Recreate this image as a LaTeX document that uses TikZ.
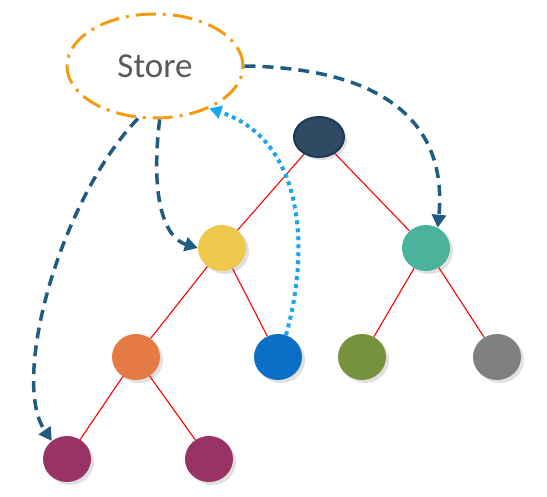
\documentclass[tikz,border=0pt]{standalone}
\usepackage{fontspec}
\setmainfont{Carlito}
\usetikzlibrary{shapes.geometric,shadows,arrows.meta}
\definecolor{storeor}{HTML}{F39C12}
\definecolor{arrblue}{HTML}{1F5C80}
\definecolor{dotblue}{HTML}{1CA7EC}
\definecolor{topfill}{HTML}{2F4A62}
\definecolor{topdraw}{HTML}{1B3A55}
\definecolor{cyel}{HTML}{EFC94C}
\definecolor{cteal}{HTML}{4BB29B}
\definecolor{corange}{HTML}{E57A44}
\definecolor{cblue}{HTML}{0B6FC7}
\definecolor{colive}{HTML}{76923C}
\definecolor{cgrey}{HTML}{808080}
\definecolor{cpurple}{HTML}{993366}
\definecolor{txtgrey}{HTML}{595959}
\tikzset{
  treenode/.style={ellipse, minimum width=48pt, minimum height=46pt, inner sep=0pt,
    drop shadow={shadow xshift=3pt, shadow yshift=-3pt, opacity=0.2, fill=black!60}},
  edge/.style={red, line width=1.1pt},
  darrow/.style={arrblue, line width=3.5pt, dash pattern=on 11pt off 7pt,
    -{Triangle[length=13pt,width=14pt,sep=0pt]}},
  dotarrow/.style={dotblue, line width=4pt, dash pattern=on 4pt off 4pt,
    -{Triangle[length=12pt,width=13pt]}}
}
\begin{document}
\begin{tikzpicture}[x=1pt,y=-1pt]
\useasboundingbox (0,0) rectangle (547,497);
% store
\node[ellipse, minimum width=176pt, minimum height=104pt, draw=storeor, line width=3pt,
  dash pattern=on 20pt off 7pt on 3pt off 7pt, text=txtgrey, font=\fontsize{35}{35}\selectfont]
  (store) at (155,66) {Store};
% tree nodes (named, for connectors)
\node[treenode, fill=topfill, draw=topdraw, line width=2pt, minimum width=50pt, minimum height=40pt] (root) at (319,137) {};
\node[treenode, fill=cyel] (yel) at (222,248) {};
\node[treenode, fill=cteal] (teal) at (426,248) {};
\node[treenode, fill=corange] (ora) at (136,357) {};
\node[treenode, fill=cblue] (blu) at (278,357) {};
\node[treenode, fill=colive] (oli) at (362,357) {};
\node[treenode, fill=cgrey] (gry) at (497,357) {};
\node[treenode, fill=cpurple] (pur1) at (67,459) {};
\node[treenode, fill=cpurple] (pur2) at (209,459) {};
% edges
\draw[edge] (root) -- (yel);
\draw[edge] (root) -- (teal);
\draw[edge] (yel) -- (ora);
\draw[edge] (yel) -- (blu);
\draw[edge] (teal) -- (oli);
\draw[edge] (teal) -- (gry);
\draw[edge] (ora) -- (pur1);
\draw[edge] (ora) -- (pur2);
% arrows
\draw[darrow] (store.east) .. controls (380,68) and (448,120) .. (teal.60);
\draw[darrow] (store.-85) .. controls (150,200) and (165,238) .. (yel.west);
\draw[darrow] (store.-108) .. controls (60,200) and (10,380) .. (pur1.130);
\draw[dotarrow] (blu.70) .. controls (310,250) and (305,140) .. (store.-38);
\end{tikzpicture}
\end{document}
